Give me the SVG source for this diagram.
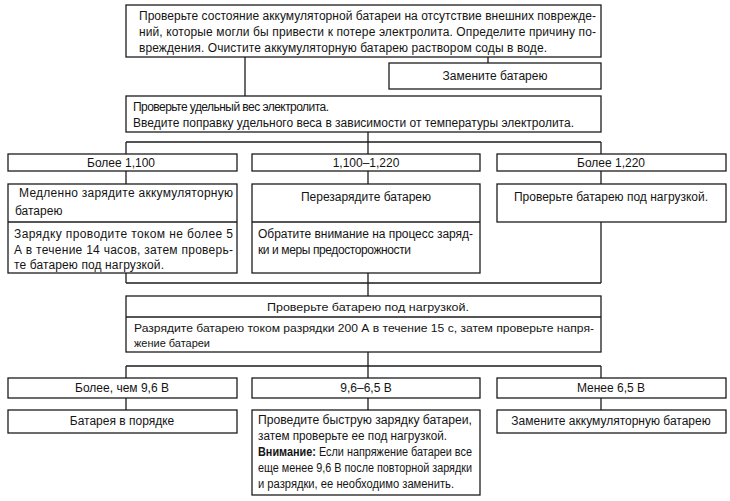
<svg xmlns="http://www.w3.org/2000/svg" width="730" height="501" viewBox="0 0 730 501">
<style>
.b{fill:#fff;stroke:#1c1c1c;stroke-width:1.3}
.d{stroke:#1c1c1c;stroke-width:1.3;fill:none}
text{font-family:"Liberation Sans",Arial,sans-serif;font-size:12px;fill:#141414}
.c{text-anchor:middle}
.n{font-size:11.5px}
.bold{font-weight:bold}
</style>
<rect width="730" height="501" fill="#fff"/>
<g id="connectors" class="d">
<path d="M245 57V96M488 57V63"/>
<path d="M368 132V142M126 142H601M126 142V154M368 142V154M601 142V154"/>
<path d="M126 171V184M368 171V184M601 171V184"/>
<path d="M126 273V283M368 273V283M601 222V283M126 283H601M368 283V296"/>
<path d="M368 352V366M126 366H601M126 366V378M368 366V378M601 366V378"/>
<path d="M126 398V410M368 398V410M601 398V410"/>
</g>
<g id="n1">
<rect class="b" x="126" y="5" width="475" height="52"/>
<text x="139" y="20" textLength="457" lengthAdjust="spacing">Проверьте состояние аккумуляторной батареи на отсутствие внешних поврежде-</text>
<text x="139" y="36" textLength="457" lengthAdjust="spacing">ний, которые могли бы привести к потере электролита. Определите причину по-</text>
<text x="139" y="52" textLength="408" lengthAdjust="spacing">вреждения. Очистите аккумуляторную батарею раствором соды в воде.</text>
</g>
<g id="n2">
<rect class="b" x="389" y="63" width="212" height="26"/>
<text class="c" x="495" y="80">Замените батарею</text>
</g>
<g id="n3">
<rect class="b" x="126" y="96" width="475" height="36"/>
<text x="133" y="111" textLength="196" lengthAdjust="spacing">Проверьте удельный вес электролита.</text>
<text x="133" y="127" textLength="441" lengthAdjust="spacing">Введите поправку удельного веса в зависимости от температуры электролита.</text>
</g>
<g id="n4">
<rect class="b" x="8" y="154" width="229" height="17"/>
<text class="c" x="121" y="167">Более 1,100</text>
</g>
<g id="n5">
<rect class="b" x="252" y="154" width="228" height="17"/>
<text class="c" x="366" y="167">1,100–1,220</text>
</g>
<g id="n6">
<rect class="b" x="497" y="154" width="229" height="17"/>
<text class="c" x="611" y="167">Более 1,220</text>
</g>
<g id="n7">
<rect class="b" x="8" y="184" width="229" height="89"/>
<line class="d" x1="8" y1="222" x2="237" y2="222"/>
<text x="19" y="197" textLength="214" lengthAdjust="spacing">Медленно зарядите аккумуляторную</text>
<text x="15" y="215">батарею</text>
<text x="14" y="238" textLength="219" lengthAdjust="spacing">Зарядку проводите током не более 5</text>
<text x="14" y="254" textLength="219" lengthAdjust="spacing">А в течение 14 часов, затем проверь-</text>
<text x="14" y="269" textLength="150" lengthAdjust="spacing">те батарею под нагрузкой.</text>
</g>
<g id="n8">
<rect class="b" x="252" y="184" width="228" height="89"/>
<line class="d" x1="252" y1="222" x2="480" y2="222"/>
<text class="c" x="366" y="201">Перезарядите батарею</text>
<text x="258" y="238" textLength="215" lengthAdjust="spacing">Обратите внимание на процесс заряд-</text>
<text x="258" y="254" textLength="153" lengthAdjust="spacing">ки и меры предосторожности</text>
</g>
<g id="n9">
<rect class="b" x="497" y="184" width="229" height="38"/>
<text class="c" x="611" y="201">Проверьте батарею под нагрузкой.</text>
</g>
<g id="n10">
<rect class="b" x="126" y="296" width="475" height="56"/>
<line class="d" x1="126" y1="317" x2="601" y2="317"/>
<text class="c n" x="368" y="311" textLength="202" lengthAdjust="spacingAndGlyphs">Проверьте батарею под нагрузкой.</text>
<text class="n" x="134" y="332" textLength="460" lengthAdjust="spacingAndGlyphs">Разрядите батарею током разрядки 200 А в течение 15 с, затем проверьте напря-</text>
<text class="n" x="134" y="347" textLength="76" lengthAdjust="spacingAndGlyphs">жение батареи</text>
</g>
<g id="n11">
<rect class="b" x="8" y="378" width="229" height="20"/>
<text class="c" x="122" y="392">Более, чем 9,6 В</text>
</g>
<g id="n12">
<rect class="b" x="252" y="378" width="228" height="20"/>
<text class="c" x="366" y="392">9,6–6,5 В</text>
</g>
<g id="n13">
<rect class="b" x="497" y="378" width="229" height="20"/>
<text class="c" x="611" y="392">Менее 6,5 В</text>
</g>
<g id="n14">
<rect class="b" x="8" y="410" width="229" height="23"/>
<text class="c" x="122" y="425">Батарея в порядке</text>
</g>
<g id="n15">
<rect class="b" x="252" y="410" width="228" height="85"/>
<text x="258" y="424" textLength="214" lengthAdjust="spacingAndGlyphs">Проведите быструю зарядку батареи,</text>
<text x="258" y="440" textLength="189" lengthAdjust="spacingAndGlyphs">затем проверьте ее под нагрузкой.</text>
<text x="258" y="456" textLength="214" lengthAdjust="spacingAndGlyphs"><tspan class="bold">Внимание:</tspan> Если напряжение батареи все</text>
<text x="258" y="472" textLength="214" lengthAdjust="spacingAndGlyphs">еще менее 9,6 В после повторной зарядки</text>
<text x="258" y="488" textLength="196" lengthAdjust="spacingAndGlyphs">и разрядки, ее необходимо заменить.</text>
</g>
<g id="n16">
<rect class="b" x="497" y="410" width="229" height="23"/>
<text class="c" x="611" y="425">Замените аккумуляторную батарею</text>
</g>
</svg>
